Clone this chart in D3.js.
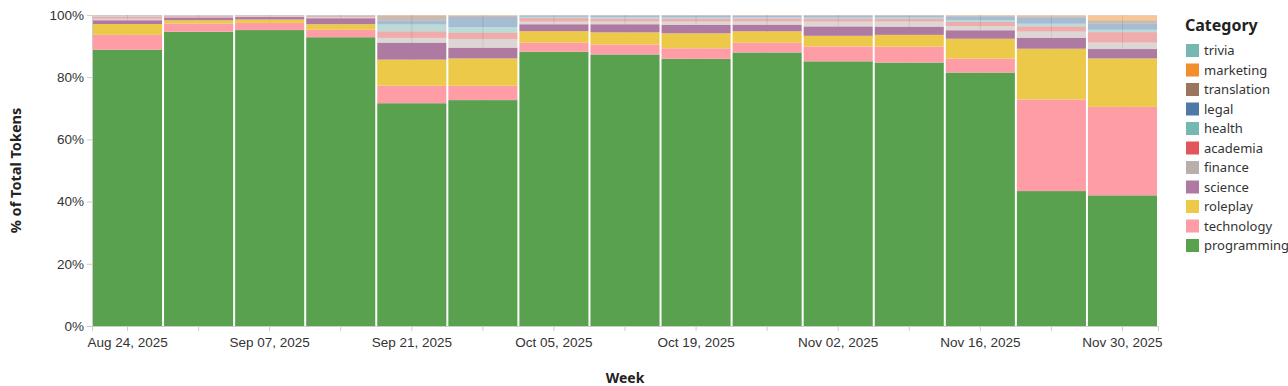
<!DOCTYPE html>
<html>
<head>
<meta charset="utf-8">
<script src="https://cdn.jsdelivr.net/npm/d3@7"></script>
<style>
  html, body { margin: 0; padding: 0; background: #fff; }
  svg { display: block; font-family: "Noto Sans", "Open Sans", sans-serif; }
</style>
</head>
<body>
<svg id="chart" width="1288" height="386"></svg>
<script>
// ---------------- DATA ----------------
const weeks = ["2025-08-24","2025-08-31","2025-09-07","2025-09-14","2025-09-21","2025-09-28","2025-10-05",
               "2025-10-12","2025-10-19","2025-10-26","2025-11-02","2025-11-09","2025-11-16","2025-11-23","2025-11-30"];
const weekLabels = ["Aug 24, 2025","Aug 31, 2025","Sep 07, 2025","Sep 14, 2025","Sep 21, 2025","Sep 28, 2025","Oct 05, 2025",
                    "Oct 12, 2025","Oct 19, 2025","Oct 26, 2025","Nov 02, 2025","Nov 09, 2025","Nov 16, 2025","Nov 23, 2025","Nov 30, 2025"];
// stack order, bottom to top
const categories = ["programming","technology","roleplay","science","finance","academia","health","legal","translation","marketing","trivia"];

const programming = [88.8, 94.7, 95.3, 92.9, 71.6, 72.6, 88.3, 87.4, 86.0, 88.0, 85.1, 84.8, 81.7, 43.6, 41.8];
const technology  = [ 4.8,  2.6,  2.3,  2.4,  5.6,  4.6,  2.9,  3.2,  3.4,  3.1,  4.8,  5.1,  4.5, 29.6, 28.3];
const roleplay    = [ 3.5,  1.1,  1.1,  1.8,  8.4,  8.8,  3.7,  3.9,  4.8,  3.7,  3.4,  3.8,  6.4, 16.4, 15.5];
const science     = [ 1.2,  0.9,  0.8,  1.9,  5.4,  3.4,  2.2,  2.6,  2.7,  2.1,  3.0,  2.6,  2.7,  3.5,  3.0];
const finance     = [ 0.5,  0.2,  0.2,  0.4,  1.6,  2.8,  0.9,  0.9,  1.1,  1.1,  1.6,  1.7,  1.4,  2.1,  2.1];
const academia    = [ 0.7,  0.3,  0.2,  0.3,  2.1,  2.1,  1.1,  0.9,  0.9,  0.9,  0.9,  0.9,  1.3,  1.6,  3.3];
const health      = [ 0.2,  0.1,  0.05, 0.1,  2.2,  1.8,  0.4,  0.5,  0.4,  0.4,  0.4,  0.4,  0.6,  0.9,  0.8];
const legal       = [ 0.1,  0.05, 0.05, 0.1,  1.3,  3.2,  0.4,  0.5,  0.6,  0.5,  0.6,  0.6,  1.2,  2.0,  2.0];
const translation = [ 0.1,  0.05, 0.05, 0.05, 1.6,  0.4,  0.1,  0.1,  0.1,  0.1,  0.1,  0.1,  0.2,  0.4,  1.0];
const marketing   = [ 0.05, 0.05, 0.05, 0.05, 0.1,  0.2,  0.05, 0.05, 0.05, 0.1,  0.05, 0.05, 0.2,  0.3,  1.6];
const trivia      = [ 0.05, 0.05, 0.05, 0.05, 0.05, 0.05, 0.05, 0.05, 0.05, 0.05, 0.05, 0.05, 0.05, 0.1,  0.1];

const seriesValues = {programming, technology, roleplay, science, finance, academia, health, legal, translation, marketing, trivia};

const colors = {
  programming: "#59a14f", technology: "#ff9da7", roleplay: "#edc949", science: "#af7aa1",
  finance: "#bab0ab", academia: "#e15759", health: "#76b7b2", legal: "#4e79a7",
  translation: "#9c755f", marketing: "#f28e2c", trivia: "#76b7b2"
};
const fadedOpacity = {finance: 0.5, academia: 0.5, health: 0.5, legal: 0.5, translation: 0.5, marketing: 0.5, trivia: 0.5};

const yTicks = [0, 0.2, 0.4, 0.6, 0.8, 1.0];

// ---------------- CHART ----------------
const svg = d3.select("#chart");
const x0 = 92, x1 = 1158, yTop = 15, yBot = 326;

const table = weeks.map((w, i) => {
  const row = {week: w};
  categories.forEach(c => row[c] = seriesValues[c][i]);
  return row;
});

const stack = d3.stack().keys(categories).offset(d3.stackOffsetExpand);
const stacked = stack(table);

const x = d3.scaleBand().domain(weeks).range([x0, x1]).padding(0);
const y = d3.scaleLinear().domain([0, 1]).range([yBot, yTop]);
const color = d3.scaleOrdinal().domain(categories).range(categories.map(c => colors[c]));

// vertical gridlines (visible through translucent segments)
svg.append("g").selectAll("line").data(weeks).join("line")
  .attr("x1", d => x(d) + x.bandwidth() / 2).attr("x2", d => x(d) + x.bandwidth() / 2)
  .attr("y1", yTop).attr("y2", yBot)
  .attr("stroke", "#dddddd").attr("stroke-width", 1);

// bars
const layers = svg.append("g").selectAll("g").data(stacked).join("g")
  .attr("fill", d => color(d.key))
  .attr("fill-opacity", d => fadedOpacity[d.key] !== undefined ? fadedOpacity[d.key] : 1);

layers.selectAll("rect").data(d => d).join("rect")
  .attr("x", d => x(d.data.week) + 1)
  .attr("width", x.bandwidth() - 2)
  .attr("y", d => y(d[1]))
  .attr("height", d => Math.max(0, y(d[0]) - y(d[1])));

// x axis
const xAxis = d3.axisBottom(x)
  .tickSize(5).tickPadding(6)
  .tickFormat((d, i) => i % 2 === 0 ? weekLabels[i] : "");
const gx = svg.append("g").attr("transform", `translate(0,${yBot})`).call(xAxis);
gx.select(".domain").attr("stroke", "#cccccc");
gx.selectAll(".tick line").attr("stroke", "#cccccc");
gx.selectAll(".tick text").attr("fill", "#333").style("font-size", "13.5px");

// y axis
const yAxis = d3.axisLeft(y).tickValues(yTicks).tickFormat(d3.format(".0%")).tickSize(5).tickPadding(3);
const gy = svg.append("g").attr("transform", `translate(${x0},0)`).call(yAxis);
gy.select(".domain").attr("stroke", "#cccccc");
gy.selectAll(".tick line").attr("stroke", "#cccccc");
gy.selectAll(".tick text").attr("fill", "#333").style("font-size", "13.5px");

// axis titles
svg.append("text")
  .attr("x", (x0 + x1) / 2).attr("y", 383)
  .attr("text-anchor", "middle")
  .style("font-size", "14px").style("font-weight", "bold").attr("fill", "#222")
  .text("Week");

svg.append("text")
  .attr("transform", `translate(21,${(yTop + yBot) / 2}) rotate(-90)`)
  .attr("text-anchor", "middle")
  .style("font-size", "14.5px").style("font-weight", "bold").attr("fill", "#222")
  .text("% of Total Tokens");

// legend (top to bottom: reverse of stack order)
const legend = svg.append("g").attr("transform", "translate(1185,0)");
legend.append("text").attr("x", 0).attr("y", 31)
  .style("font-size", "16px").style("font-weight", "bold").attr("fill", "#222")
  .text("Category");
const legendItems = categories.slice().reverse();
const li = legend.selectAll("g.item").data(legendItems).join("g")
  .attr("class", "item")
  .attr("transform", (d, i) => `translate(0,${44 + i * 19.5})`);
li.append("rect").attr("x", 1).attr("y", 0).attr("width", 13).attr("height", 13)
  .attr("fill", d => color(d));
li.append("text").attr("x", 19).attr("y", 11)
  .style("font-size", "13px").attr("fill", "#333")
  .text(d => d);
</script>
</body>
</html>
